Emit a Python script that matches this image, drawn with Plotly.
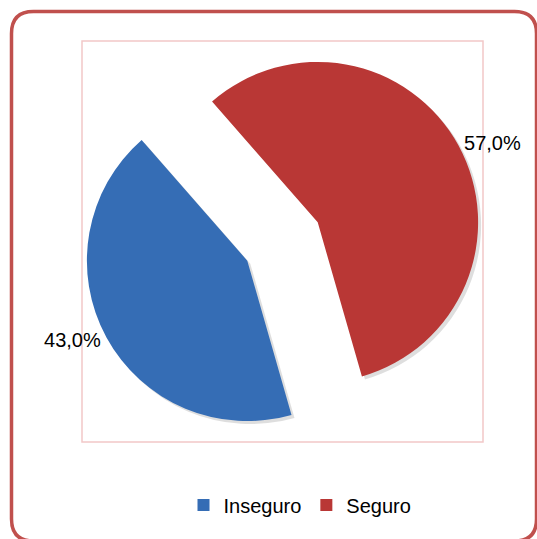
import plotly.graph_objects as go

labels = ["Inseguro", "Seguro"]
values = [43.0, 57.0]
colors = ["#356DB5", "#B93735"]

W, H = 537, 539
SH = 3  # shadow offset in px
PL, PR, PT, PB = 82, 483 + SH, 41, 442 + SH  # plot area (window pixels)
pw, ph = PR - PL, PB - PT
L, T, R, B = PL, PT, W - PR, H - PB


def px_x(v):
    return (v - PL) / pw


def px_y(v):
    return 1 - (v - PT) / ph


font_family = "Liberation Sans, Arial, sans-serif"
d = SH / pw

fig = go.Figure()
# soft shadow
fig.add_trace(go.Pie(
    labels=labels,
    values=values,
    sort=False,
    direction="clockwise",
    rotation=164,
    pull=[0.25, 0.25],
    domain=dict(x=[d, 1], y=[0, 1 - d]),
    marker=dict(colors=["rgba(0,0,0,0.13)", "rgba(0,0,0,0.13)"], line=dict(width=0)),
    textinfo="none",
    hoverinfo="skip",
    showlegend=False,
))
fig.add_trace(go.Pie(
    labels=labels,
    values=values,
    sort=False,
    direction="clockwise",
    rotation=164,
    pull=[0.25, 0.25],
    domain=dict(x=[0, 1 - d], y=[d, 1]),
    marker=dict(colors=colors, line=dict(width=0)),
    textposition="outside",
    texttemplate="%{percent:.1%}",
    textfont=dict(size=20, color="#000000", family=font_family),
    hoverinfo="label+percent",
))

# outer rounded border (window pixels)
x0, x1, y0, y1, rr = 11.5, 536.5, 11.5, 541.0, 22
path = (
    f"M {px_x(x0)},{px_y(y0 + rr)} "
    f"Q {px_x(x0)},{px_y(y0)} {px_x(x0 + rr)},{px_y(y0)} "
    f"L {px_x(x1 - rr)},{px_y(y0)} "
    f"Q {px_x(x1)},{px_y(y0)} {px_x(x1)},{px_y(y0 + rr)} "
    f"L {px_x(x1)},{px_y(y1 - rr)} "
    f"Q {px_x(x1)},{px_y(y1)} {px_x(x1 - rr)},{px_y(y1)} "
    f"L {px_x(x0 + rr)},{px_y(y1)} "
    f"Q {px_x(x0)},{px_y(y1)} {px_x(x0)},{px_y(y1 - rr)} Z"
)

fig.update_layout(
    width=W, height=H,
    margin=dict(l=L, r=R, t=T, b=B, autoexpand=False),
    paper_bgcolor="white",
    plot_bgcolor="white",
    separators=",.",
    font=dict(family=font_family, size=20, color="#000000"),
    showlegend=True,
    legend=dict(
        orientation="h",
        x=px_x(300), xanchor="center",
        y=px_y(505), yanchor="middle",
        font=dict(size=20, family=font_family, color="#000000"),
        itemsizing="constant",
        itemwidth=30,
    ),
    shapes=[
        dict(type="rect", xref="paper", yref="paper",
             x0=px_x(82), x1=px_x(483), y0=px_y(442), y1=px_y(41),
             line=dict(color="#F2C8C8", width=1.5), layer="below"),
        dict(type="path", xref="paper", yref="paper", path=path,
             line=dict(color="#C0504D", width=3.5)),
    ],
)

fig.write_html(
    "out.html",
    config={"displayModeBar": False},
    post_script="document.body.style.margin='0px';document.body.style.overflow='hidden';",
)
